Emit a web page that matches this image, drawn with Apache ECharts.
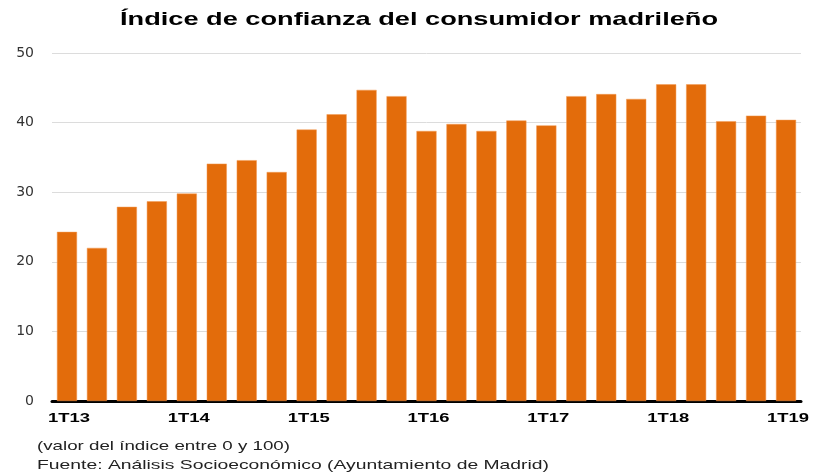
<!DOCTYPE html>
<html>
<head>
<meta charset="utf-8">
<script src="https://cdn.jsdelivr.net/npm/echarts@6/dist/echarts.min.js"></script>
<style>
  html, body { margin: 0; padding: 0; background: #fff; }
  #chart { width: 817px; height: 472px; }
</style>
</head>
<body>
<div id="chart"></div>
<script>
// trimestres 1T13 .. 1T19
var quarters = [
    '1T13', '2T13', '3T13', '4T13',
    '1T14', '2T14', '3T14', '4T14',
    '1T15', '2T15', '3T15', '4T15',
    '1T16', '2T16', '3T16', '4T16',
    '1T17', '2T17', '3T17', '4T17',
    '1T18', '2T18', '3T18', '4T18',
    '1T19'
];
var indexValues = [
    24.3, 22.0, 27.9, 28.7,
    29.8, 34.1, 34.6, 32.9,
    39.0, 41.2, 44.7, 43.8,
    38.8, 39.8, 38.8, 40.3,
    39.6, 43.8, 44.1, 43.4,
    45.5, 45.5, 40.2, 41.0,
    40.4
];
var xTickLabels = ['1T13', '1T14', '1T15', '1T16', '1T17', '1T18', '1T19'];
var yTicks = [0, 10, 20, 30, 40, 50];

var titleText = 'Índice de confianza del consumidor madrileño';
var noteText = '(valor del índice entre 0 y 100)';
var sourceText = 'Fuente: Análisis Socioeconómico (Ayuntamiento de Madrid)';

// the reference text is stretched sideways, so scale it to the wanted width
var measureCtx = document.createElement('canvas').getContext('2d');
function stretchTo(text, font, targetW) {
    measureCtx.font = font;
    return targetW / measureCtx.measureText(text).width;
}

var titleFont = 'bold 19px "Liberation Sans"';
var noteFont = '13px "Liberation Sans"';
var tickFont = 'bold 13px "Liberation Sans"';

var myChart = echarts.init(document.getElementById('chart'));

var option = {
    animation: false,
    grid: {
        left: 52,
        right: 16,
        top: 53,
        bottom: 71
    },
    xAxis: {
        type: 'category',
        data: quarters,
        axisTick: { show: false },
        axisLine: {
            lineStyle: { color: '#000', width: 3 }
        },
        // labels are drawn below as stretched text
        axisLabel: { show: false }
    },
    yAxis: {
        type: 'value',
        min: yTicks[0],
        max: yTicks[yTicks.length - 1],
        interval: 10,
        axisLine: { show: false },
        axisTick: { show: false },
        axisLabel: {
            margin: 18,
            color: '#333',
            fontFamily: 'DejaVu Sans',
            fontSize: 14
        },
        splitLine: {
            lineStyle: { color: '#dcdcdc', width: 1 }
        }
    },
    series: [
        {
            name: 'Índice',
            type: 'bar',
            data: indexValues,
            barCategoryGap: '33%',
            itemStyle: {
                color: '#e36c0b',
                borderColor: '#f29a55',
                borderWidth: 0.5
            }
        }
    ],
    graphic: [
        {
            type: 'text',
            x: 120,
            y: 10,
            scaleX: stretchTo(titleText, titleFont, 598),
            style: {
                text: titleText,
                font: titleFont,
                fill: '#000',
                verticalAlign: 'top'
            }
        },
        {
            type: 'text',
            x: 37,
            y: 440,
            scaleX: stretchTo(noteText, noteFont, 253),
            style: {
                text: noteText,
                font: noteFont,
                fill: '#222',
                verticalAlign: 'top'
            }
        },
        {
            type: 'text',
            x: 37,
            y: 459,
            scaleX: stretchTo(sourceText, noteFont, 512),
            style: {
                text: sourceText,
                font: noteFont,
                fill: '#222',
                verticalAlign: 'top'
            }
        }
    ]
};

myChart.setOption(option);

// x tick labels placed with the category axis scale
var tickScale = stretchTo('1T13', tickFont, 42);
var zeroY = myChart.convertToPixel({ yAxisIndex: 0 }, 0);
var tickGraphics = xTickLabels.map(function (label) {
    return {
        type: 'text',
        x: myChart.convertToPixel({ xAxisIndex: 0 }, label) + 2,
        y: zeroY + 11,
        scaleX: tickScale,
        style: {
            text: label,
            font: tickFont,
            fill: '#000',
            align: 'center',
            verticalAlign: 'top'
        }
    };
});
myChart.setOption({ graphic: option.graphic.concat(tickGraphics) });
</script>
</body>
</html>
